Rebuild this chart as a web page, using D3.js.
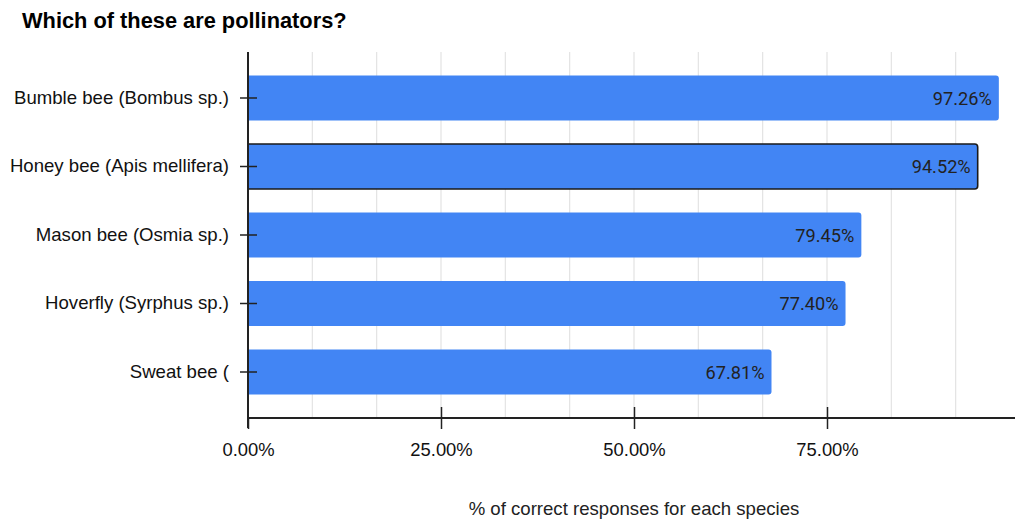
<!DOCTYPE html>
<html>
<head>
<meta charset="utf-8">
<script src="https://cdn.jsdelivr.net/npm/d3@7"></script>
<style>
  html, body { margin: 0; padding: 0; background: #fff; }
  svg { display: block; }
</style>
</head>
<body>
<svg id="chart" width="1015" height="525"></svg>
<script>
// Survey results: share of respondents who correctly identified each species as a pollinator
const species = [
  "Bumble bee (Bombus sp.)",
  "Honey bee (Apis mellifera)",
  "Mason bee (Osmia sp.)",
  "Hoverfly (Syrphus sp.)",
  "Sweat bee ("
];
const correctShare = [97.26, 94.52, 79.45, 77.40, 67.81];
const labelledTicks = [0, 25, 50, 75];
const highlighted = "Honey bee (Apis mellifera)";

const data = species.map((name, i) => ({ name, value: correctShare[i] }));

const svg = d3.select("#chart");
const W = 1015, H = 525;
const plot = { left: 248, right: 1020, top: 52, bottom: 418 };

const x = d3.scaleLinear().domain([0, 100]).range([plot.left, plot.right]);
const y = d3.scaleBand().domain(species).range([plot.top, plot.bottom])
  .paddingInner(0.343).paddingOuter(0.343);

const sans = "'Liberation Sans', Arial, sans-serif";

// Title
svg.append("text")
  .attr("x", 22).attr("y", 28)
  .attr("font-family", sans).attr("font-weight", "bold")
  .attr("font-size", 21.8).attr("fill", "#000")
  .text("Which of these are pollinators?");

// Light vertical gridlines every third of a labelled interval
const gridVals = d3.range(1, 13).map(k => k * 100 / 12);
svg.append("g").selectAll("line").data(gridVals).join("line")
  .attr("x1", d => x(d)).attr("x2", d => x(d))
  .attr("y1", plot.top).attr("y2", plot.bottom)
  .attr("stroke", "#e3e3e3").attr("stroke-width", 1.2);

// Bars, square at the baseline and rounded at the tip
const r = 3;
function barPath(d) {
  const x0 = x(0), x1 = x(d.value), y0 = y(d.name), h = y.bandwidth();
  return `M${x0},${y0} H${x1 - r} Q${x1},${y0} ${x1},${y0 + r} V${y0 + h - r} Q${x1},${y0 + h} ${x1 - r},${y0 + h} H${x0} Z`;
}
svg.append("g").selectAll("path").data(data).join("path")
  .attr("d", barPath)
  .attr("fill", "#4285f4")
  .attr("stroke", d => d.name === highlighted ? "#1a1a1a" : "none")
  .attr("stroke-width", d => d.name === highlighted ? 1.6 : 0);

// Value labels inside the bar ends
svg.append("g").selectAll("text").data(data).join("text")
  .attr("x", d => x(d.value) - 7)
  .attr("y", d => y(d.name) + y.bandwidth() / 2)
  .attr("dy", "0.36em")
  .attr("text-anchor", "end")
  .attr("font-family", "Roboto, sans-serif").attr("font-size", 18.2)
  .attr("fill", "#222")
  .text(d => d.value.toFixed(2) + "%");

// Y axis
const yAxis = d3.axisLeft(y).tickSize(9).tickPadding(10);
const gy = svg.append("g").attr("transform", `translate(${plot.left},0)`).call(yAxis);
gy.select(".domain").attr("d", `M0,${plot.top}V${plot.bottom + 10}`)
  .attr("stroke", "#222").attr("stroke-width", 2);
gy.selectAll(".tick line").attr("x1", 9).attr("x2", -8).attr("stroke", "#222").attr("stroke-width", 1.5);
gy.selectAll(".tick text").attr("font-family", sans).attr("font-size", 18.6).attr("fill", "#111");

// X axis
const xAxis = d3.axisBottom(x).tickValues(labelledTicks)
  .tickFormat(d => d.toFixed(2) + "%").tickSize(11).tickPadding(14);
const gx = svg.append("g").attr("transform", `translate(0,${plot.bottom})`).call(xAxis);
gx.select(".domain").attr("d", `M${plot.left},0H${W}`)
  .attr("stroke", "#222").attr("stroke-width", 2);
gx.selectAll(".tick line")
  .attr("y1", d => d === 0 ? 0 : -11).attr("y2", 11)
  .attr("stroke", "#222").attr("stroke-width", 1.5);
gx.selectAll(".tick text").attr("font-family", sans).attr("font-size", 18.4).attr("fill", "#111");

// X axis title
svg.append("text")
  .attr("x", (plot.left + plot.right) / 2).attr("y", 515)
  .attr("text-anchor", "middle")
  .attr("font-family", sans).attr("font-size", 18.6).attr("fill", "#222")
  .text("% of correct responses for each species");
</script>
</body>
</html>
